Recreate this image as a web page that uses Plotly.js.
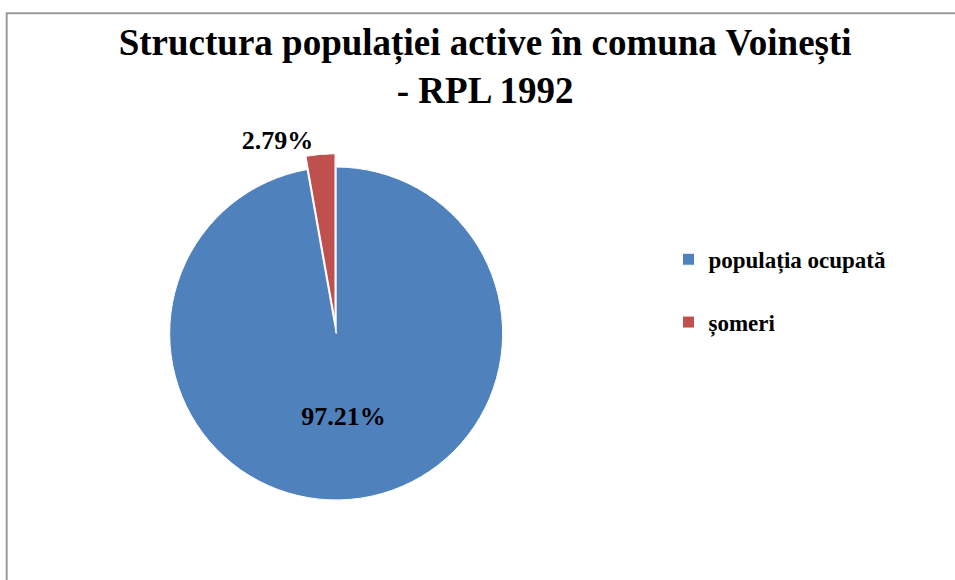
<!DOCTYPE html>
<html>
<head>
<meta charset="utf-8">
<script src="https://cdn.plot.ly/plotly-3.0.1.min.js"></script>
<style>html,body{margin:0;padding:0;background:#fff;}#chart{width:955px;height:580px;}</style>
</head>
<body>
<div id="chart"></div>
<script>
const categories = ["populația ocupată", "șomeri"];
const shares = [97.21, 2.79];
const sliceColors = ["#4F81BD", "#C0504D"];

const serif = "Liberation Serif";

const trace = {
  type: "pie",
  labels: categories.map(c => "<span style=\"font-family:'Liberation Serif',serif;font-weight:bold\">" + c + "</span><br> "),
  values: shares,
  sort: false,
  direction: "clockwise",
  rotation: 0,
  pull: [0, 0.08],
  marker: { colors: sliceColors, line: { color: "#ffffff", width: 1 } },
  texttemplate: "<b>%{percent:.2%}</b>",
  textposition: ["inside", "outside"],
  insidetextorientation: "horizontal",
  textfont: { family: serif, size: 26, color: "#000000" },
  domain: { x: [0.162, 0.542], y: [0.115, 0.735] },
  hoverinfo: "percent"
};

const layout = {
  width: 955,
  height: 580,
  margin: { l: 0, r: 0, t: 0, b: 0 },
  paper_bgcolor: "#ffffff",
  font: { family: serif, color: "#000000" },
  title: {
    text: "<b>Structura populației active în comuna Voinești<br>- RPL 1992</b>",
    font: { family: serif, size: 37, color: "#000000" },
    x: 0.508, xanchor: "center",
    y: 0.905, yanchor: "top"
  },
  showlegend: true,
  legend: {
    x: 0.700, y: 0.59, xanchor: "left", yanchor: "top",
    valign: "top",
    font: { family: "Times New Roman", size: 23, color: "#000000", weight: "bold" },
    itemwidth: 30
  },
  shapes: [{
    type: "rect", xref: "paper", yref: "paper",
    x0: 0.007, x1: 1.02, y0: -0.05, y1: 0.977,
    line: { color: "#9a9a9a", width: 2 }
  }]
};

Plotly.newPlot("chart", [trace], layout, { displayModeBar: false, staticPlot: true });
</script>
</body>
</html>
